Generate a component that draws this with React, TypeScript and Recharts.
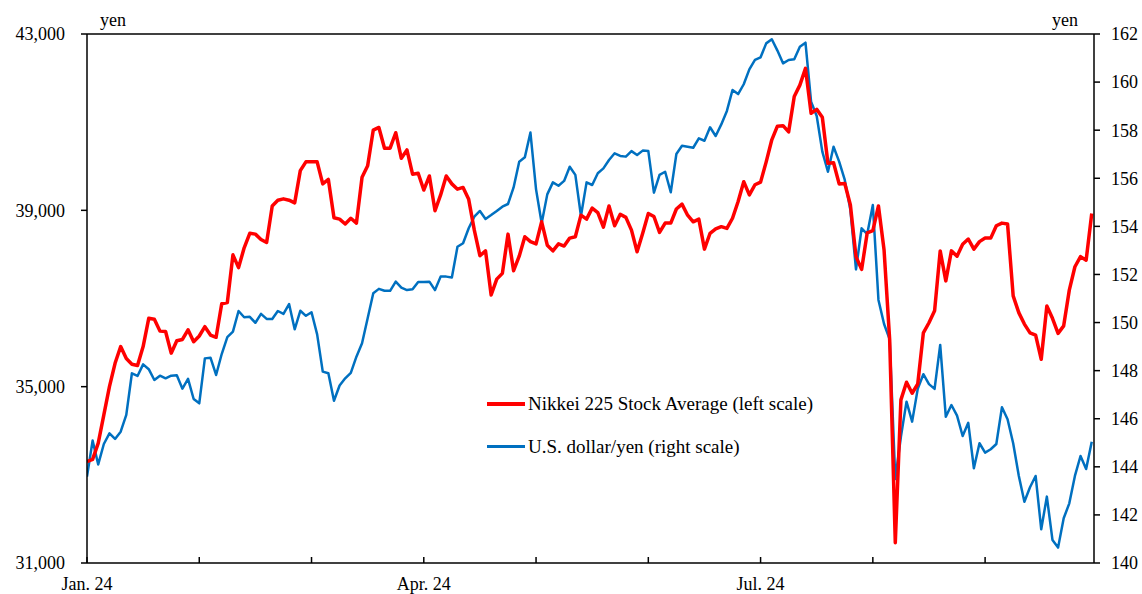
import { LineChart, Line, XAxis, YAxis, Legend, ReferenceLine } from "recharts";

// trading-day index -> month ticks (about 20 business days per month)
const monthTicks = [0, 20, 40, 60, 80, 100, 120, 140, 160];
const monthLabels = ["Jan. 24", "", "", "Apr. 24", "", "", "Jul. 24", "", ""];

const leftTicks = [31000, 35000, 39000, 43000];
const rightTicks = [140, 142, 144, 146, 148, 150, 152, 154, 156, 158, 160, 162];

// Nikkei 225 Stock Average, yen (left scale)
const nikkei = [
  33300, 33350, 33720, 34360, 35000, 35530, 35910, 35640, 35510, 35480,
  35910, 36550, 36530, 36260, 36250, 35760, 36040, 36070, 36290, 36020,
  36150, 36360, 36170, 36120, 36880, 36910, 37990, 37700, 38150, 38480,
  38460, 38340, 38270, 39100, 39230, 39260, 39230, 39170, 39900, 40100,
  40100, 40100, 39600, 39700, 38830, 38800, 38690, 38820, 38710, 39750,
  40010, 40820, 40880, 40410, 40410, 40760, 40180, 40370, 39820, 39840,
  39460, 39780, 38990, 39350, 39780, 39600, 39480, 39520, 39250, 38550,
  37970, 38080, 37080, 37440, 37570, 38460, 37630, 37960, 38400, 38290,
  38240, 38740, 38210, 38080, 38240, 38190, 38370, 38400, 38890, 38800,
  39050, 38950, 38620, 39100, 38650, 38910, 38840, 38550, 38060, 38480,
  38930, 38860, 38500, 38710, 38710, 39030, 39140, 38890, 38740, 38800,
  38120, 38480, 38580, 38630, 38590, 38820, 39200, 39650, 39350, 39580,
  39640, 40100, 40600, 40910, 40920, 40780, 41580, 41840, 42220, 41200,
  41290, 41110, 40070, 40080, 39600, 39610, 39120, 37950, 37660, 38490,
  38540, 39100, 38100, 36060, 31460, 34700, 35100, 34850, 35060, 36220,
  36450, 36720, 38080, 37400, 38080, 37960, 38230, 38350, 38120, 38290,
  38370, 38370, 38650, 38710, 38690, 37060, 36680, 36420, 36220, 36170,
  35620, 36830, 36550, 36210, 36380, 37190, 37720, 37950, 37870, 38930,
];

// U.S. dollar/yen (right scale)
const usdJpy = [
  143.59, 145.09, 144.1, 144.95, 145.39, 145.16, 145.46, 146.16, 147.89, 147.78,
  148.26, 148.06, 147.61, 147.79, 147.68, 147.79, 147.81, 147.25, 147.66, 146.82,
  146.64, 148.51, 148.54, 147.82, 148.69, 149.39, 149.62, 150.48, 150.22, 150.24,
  149.99, 150.36, 150.15, 150.15, 150.48, 150.36, 150.77, 149.72, 150.49, 150.28,
  150.43, 149.51, 147.96, 147.89, 146.75, 147.38, 147.68, 147.91, 148.58, 149.14,
  150.18, 151.22, 151.4, 151.32, 151.32, 151.7, 151.45, 151.35, 151.38, 151.69,
  151.69, 151.7, 151.35, 151.91, 151.91, 151.87, 153.15, 153.3, 153.92, 154.4,
  154.64, 154.31, 154.47, 154.64, 154.82, 154.93, 155.62, 156.69, 156.87, 157.9,
  155.54, 154.13, 155.33, 155.83, 155.69, 155.89, 156.48, 156.14, 154.43, 155.83,
  155.72, 156.21, 156.41, 156.76, 157.04, 156.93, 156.9, 157.13, 156.97, 157.15,
  157.13, 155.4, 156.14, 156.27, 155.42, 157.01, 157.35, 157.31, 157.27, 157.66,
  157.56, 158.12, 157.76, 158.24, 158.8, 159.67, 159.5, 159.91, 160.53, 160.92,
  161.03, 161.61, 161.78, 161.31, 160.78, 160.92, 160.95, 161.47, 161.64, 159.18,
  158.59, 157.11, 156.27, 157.31, 156.69, 155.93, 154.68, 152.21, 153.92, 153.68,
  154.89, 150.94, 149.94, 149.3, 143.49, 145.25, 146.71, 145.88, 147.24, 147.85,
  147.44, 147.24, 149.07, 146.08, 146.57, 146.13, 145.28, 145.83, 143.94, 144.98,
  144.59, 144.73, 144.95, 146.48, 145.98, 144.98, 143.63, 142.55, 143.15, 143.62,
  141.4, 142.76, 140.96, 140.64, 141.86, 142.48, 143.62, 144.45, 143.91, 145.04,
];

const data = nikkei.map((v, i) => ({ i, nikkei: v, usd: usdJpy[i] }));

const FONT = '"Liberation Serif", "Times New Roman", serif';

function MonthTick(props: any) {
  const { x, y, payload } = props;
  const idx = monthTicks.indexOf(payload.value);
  const label = idx >= 0 ? monthLabels[idx] : "";
  return (
    <g>
      <line x1={x} x2={x} y1={y - 14} y2={y - 20} stroke="#000" strokeWidth={1.5} />
      <text x={x} y={y} dy="0.71em" textAnchor="middle" fontSize={18} fill="#000" fontFamily={FONT}>
        {label}
      </text>
    </g>
  );
}

function LegendBox() {
  const items = [
    { label: "Nikkei 225 Stock Average (left scale)", color: "#ff0000", h: 4 },
    { label: "U.S. dollar/yen (right scale)", color: "#0070c0", h: 3 },
  ];
  return (
    <div style={{ fontFamily: FONT, fontSize: 19, color: "#000" }}>
      {items.map((it) => (
        <div key={it.label} style={{ display: "flex", alignItems: "center", height: 42.5, whiteSpace: "nowrap" }}>
          <span style={{ display: "inline-block", width: 38, height: it.h, background: it.color, marginRight: 3 }} />
          <span>{it.label}</span>
        </div>
      ))}
    </div>
  );
}

export default function App() {
  return (
    <div style={{ fontFamily: FONT, padding: "8px 0 0 8px" }}>
      <style>{"html, body { margin: 0; overflow: hidden; } svg.recharts-surface { overflow: visible; }"}</style>
      <LineChart width={1134} height={586} data={data} margin={{ top: 26, right: 0, bottom: 0, left: 0 }}>
        <XAxis
          dataKey="i"
          type="number"
          domain={[0, 179.4]}
          ticks={monthTicks}
          interval={0}
          height={31}
          tickSize={0}
          tickMargin={14}
          tickLine={false}
          tick={<MonthTick />}
          axisLine={{ stroke: "#000", strokeWidth: 1.5 }}
          allowDataOverflow
        />
        <YAxis
          yAxisId="left"
          width={79}
          domain={[31000, 43000]}
          ticks={leftTicks}
          interval={0}
          tickSize={6}
          tickMargin={16}
          tickFormatter={(v: number) => v.toLocaleString("en-US")}
          tick={{ fontSize: 18, fill: "#000", fontFamily: FONT }}
          tickLine={{ stroke: "#000", strokeWidth: 1.5 }}
          axisLine={{ stroke: "#000", strokeWidth: 1.5 }}
          allowDataOverflow
          label={{
            content: (p: any) => (
              <text x={p.viewBox.x + p.viewBox.width + 13} y={p.viewBox.y - 8} fontSize={18} fill="#000" fontFamily={FONT}>
                yen
              </text>
            ),
          }}
        />
        <YAxis
          yAxisId="right"
          orientation="right"
          width={48}
          domain={[140, 162]}
          ticks={rightTicks}
          interval={0}
          tickSize={6}
          tickMargin={11}
          tick={{ fontSize: 18, fill: "#000", fontFamily: FONT }}
          tickLine={{ stroke: "#000", strokeWidth: 1.5 }}
          axisLine={{ stroke: "#000", strokeWidth: 1.5 }}
          allowDataOverflow
          label={{
            content: (p: any) => (
              <text x={p.viewBox.x - 16} y={p.viewBox.y - 8} textAnchor="end" fontSize={18} fill="#000" fontFamily={FONT}>
                yen
              </text>
            ),
          }}
        />
        <ReferenceLine yAxisId="left" y={43000} stroke="#404040" strokeWidth={2} />
        <Legend
          layout="vertical"
          align="center"
          verticalAlign="middle"
          content={<LegendBox />}
          wrapperStyle={{ left: 479, top: 375, width: "auto", height: "auto" }}
        />
        <Line
          yAxisId="right"
          type="linear"
          dataKey="usd"
          stroke="#0070c0"
          strokeWidth={2.5}
          dot={false}
          strokeLinejoin="round"
          isAnimationActive={false}
        />
        <Line
          yAxisId="left"
          type="linear"
          dataKey="nikkei"
          stroke="#ff0000"
          strokeWidth={3.5}
          dot={false}
          strokeLinejoin="round"
          isAnimationActive={false}
        />
      </LineChart>
    </div>
  );
}
